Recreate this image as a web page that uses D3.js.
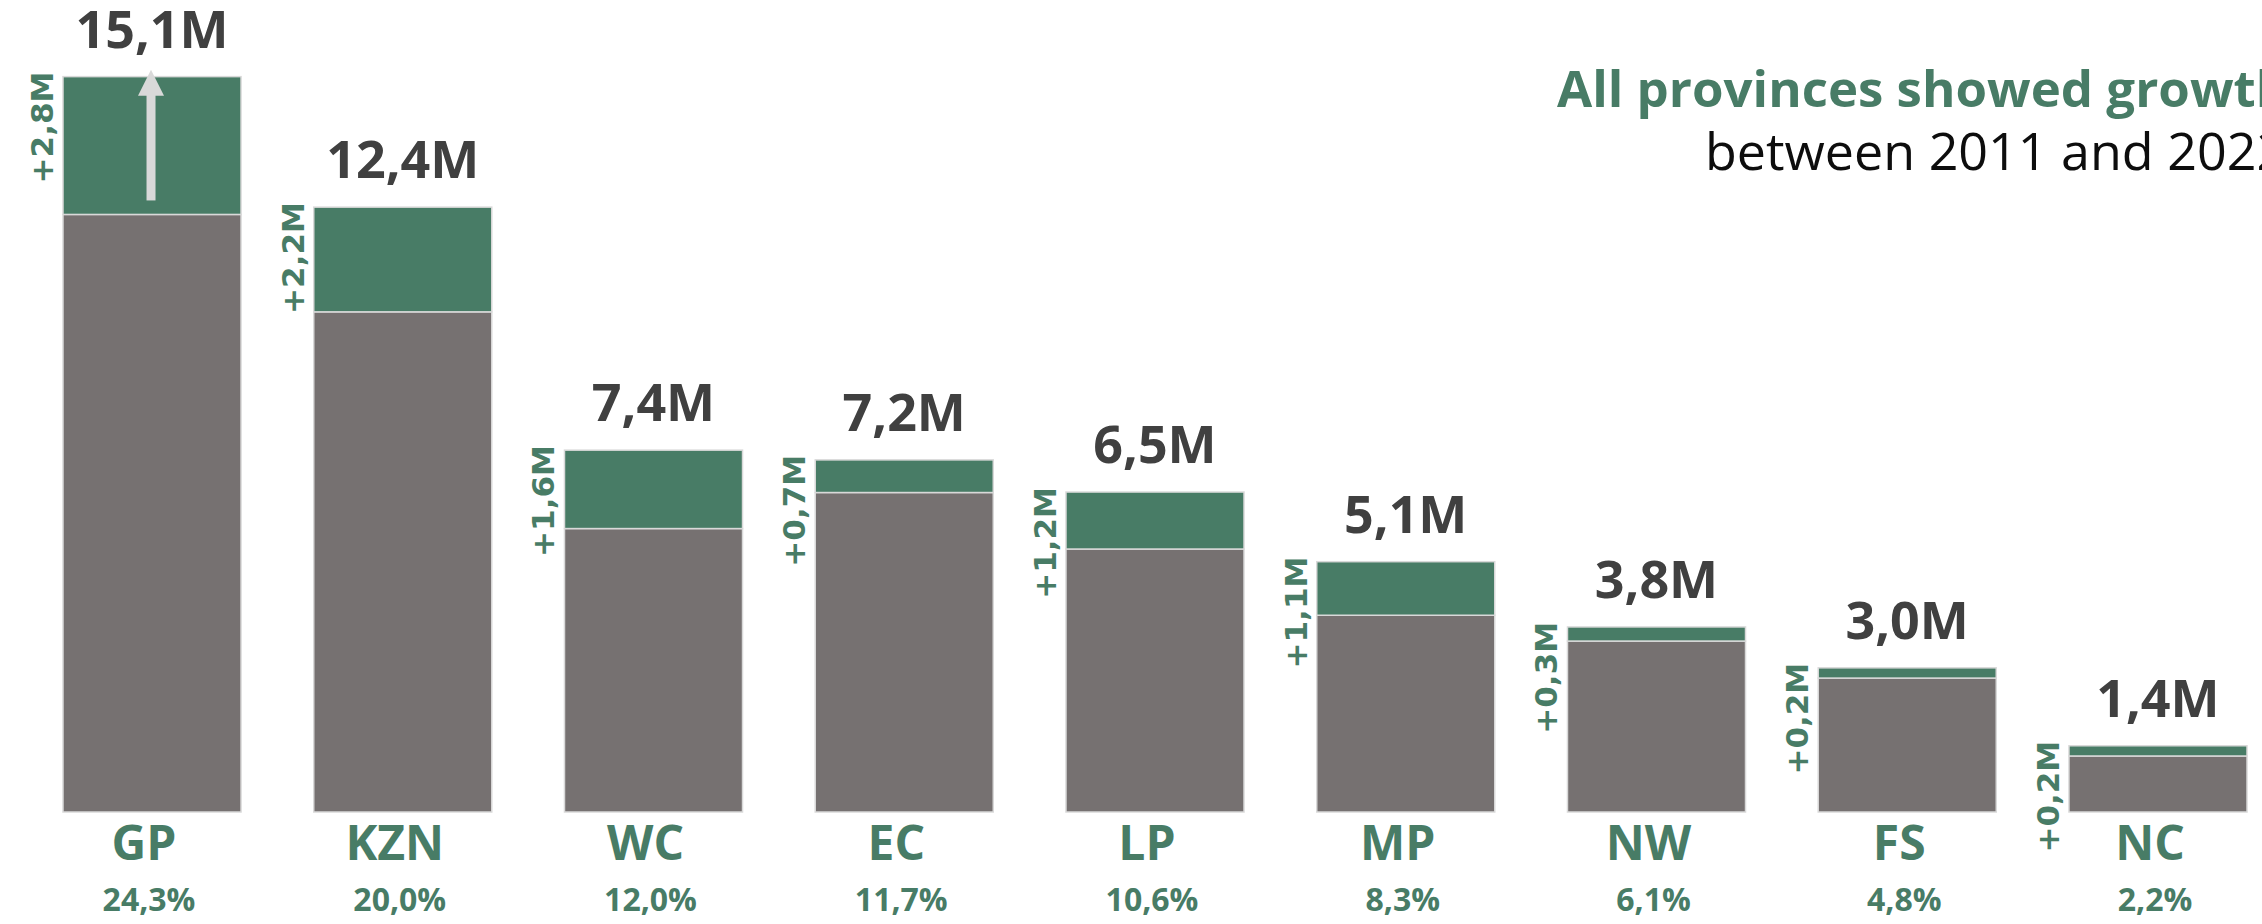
<!DOCTYPE html>
<meta charset="utf-8">
<style>
body { margin: 0; background: #fff; }
text { font-family: "Open Sans", "Segoe UI", sans-serif; }
.total { font-weight: 700; font-size: 52px; fill: #404040; }
.growth { font-family: "DejaVu Sans", sans-serif; font-weight: 700; font-size: 31px; fill: #487c66; }
.cat { font-weight: 700; font-size: 48px; fill: #487c66; }
.share { font-weight: 700; font-size: 32px; fill: #487c66; }
</style>
<body>
<svg id="chart"></svg>
<script src="https://cdn.jsdelivr.net/npm/d3@7"></script>
<script>

// population in millions, census 2011 vs 2022
var provinces = ["GP", "KZN", "WC", "EC", "LP", "MP", "NW", "FS", "NC"];
var pop2011 = [12.27, 10.27, 5.82, 6.56, 5.40, 4.04, 3.51, 2.75, 1.15];
var pop2022 = [15.10, 12.42, 7.43, 7.23, 6.57, 5.14, 3.80, 2.96, 1.36];
var totalLabels = ["15,1M", "12,4M", "7,4M", "7,2M", "6,5M", "5,1M", "3,8M", "3,0M", "1,4M"];
var growthLabels = ["+2,8M", "+2,2M", "+1,6M", "+0,7M", "+1,2M", "+1,1M", "+0,3M", "+0,2M", "+0,2M"];
var shareLabels = ["24,3%", "20,0%", "12,0%", "11,7%", "10,6%", "8,3%", "6,1%", "4,8%", "2,2%"];

var colors = { old: "#767171", growth: "#487c66" };

var width = 2262, height = 924;

var svg = d3.select("svg#chart")
    .attr("width", width)
    .attr("height", height);

var data = provinces.map((p, i) => ({
  name: p,
  old: pop2011[i],
  total: pop2022[i],
  totalLabel: totalLabels[i],
  growthLabel: growthLabels[i],
  share: shareLabels[i]
}));

var x = d3.scaleBand()
    .domain(provinces)
    .range([63, 2247])
    .paddingInner(0.29)
    .paddingOuter(0);

var y = d3.scaleLinear()
    .domain([0, 16])
    .range([812, 32.8]);

var bars = svg.append("g").attr("id", "bars");

// 2011 part
bars.selectAll(".old")
    .data(data)
  .enter().append("rect")
    .attr("class", "old")
    .attr("x", d => x(d.name))
    .attr("y", d => y(d.old))
    .attr("width", x.bandwidth())
    .attr("height", d => y(0) - y(d.old))
    .attr("fill", colors.old)
    .attr("stroke", "#d9d9d9")
    .attr("stroke-width", 1.5);

// growth up to 2022
bars.selectAll(".growth-bar")
    .data(data)
  .enter().append("rect")
    .attr("class", "growth-bar")
    .attr("x", d => x(d.name))
    .attr("y", d => y(d.total))
    .attr("width", x.bandwidth())
    .attr("height", d => y(d.old) - y(d.total))
    .attr("fill", colors.growth)
    .attr("stroke", "#d9d9d9")
    .attr("stroke-width", 1.5);

// arrow in the first bar
var gp = data[0];
var ax = x(gp.name) + x.bandwidth() / 2 - 1;
var aTop = y(gp.total) - 7, aBot = y(gp.old) - 14;
svg.append("rect")
    .attr("x", ax - 4.5)
    .attr("y", aTop + 24)
    .attr("width", 9)
    .attr("height", aBot - aTop - 24)
    .attr("fill", "#d9d9d9");
svg.append("path")
    .attr("d", `M${ax},${aTop} L${ax + 13},${aTop + 26} L${ax - 13},${aTop + 26} Z`)
    .attr("fill", "#d9d9d9");

var labels = svg.append("g").attr("id", "labels");

labels.selectAll(".total")
    .data(data)
  .enter().append("text")
    .attr("class", "total")
    .attr("x", d => x(d.name) + x.bandwidth() / 2)
    .attr("y", d => y(d.total) - 29)
    .attr("text-anchor", "middle")
    .text(d => d.totalLabel);

labels.selectAll(".growth")
    .data(data)
  .enter().append("text")
    .attr("class", "growth")
    .attr("transform", d => `translate(${x(d.name) - 10},${y(d.total) - 5}) rotate(-90)`)
    .attr("text-anchor", "end")
    .text(d => d.growthLabel);

labels.selectAll(".cat")
    .data(data)
  .enter().append("text")
    .attr("class", "cat")
    .attr("x", d => x(d.name) + x.bandwidth() / 2 - 8)
    .attr("y", 860)
    .attr("text-anchor", "middle")
    .text(d => d.name);

labels.selectAll(".share")
    .data(data)
  .enter().append("text")
    .attr("class", "share")
    .attr("x", d => x(d.name) + x.bandwidth() / 2 - 3)
    .attr("y", 911)
    .attr("text-anchor", "middle")
    .text(d => d.share);

// title, cut off by the right edge like the original
svg.append("text")
    .attr("x", 1557)
    .attr("y", 107)
    .style("font-weight", 700)
    .style("font-size", "51px")
    .style("fill", colors.growth)
    .text("All provinces showed growth");

svg.append("text")
    .attr("x", 1705)
    .attr("y", 170)
    .style("font-size", "52px")
    .style("fill", "#0d0d0d")
    .text("between 2011 and 2022");

</script>
